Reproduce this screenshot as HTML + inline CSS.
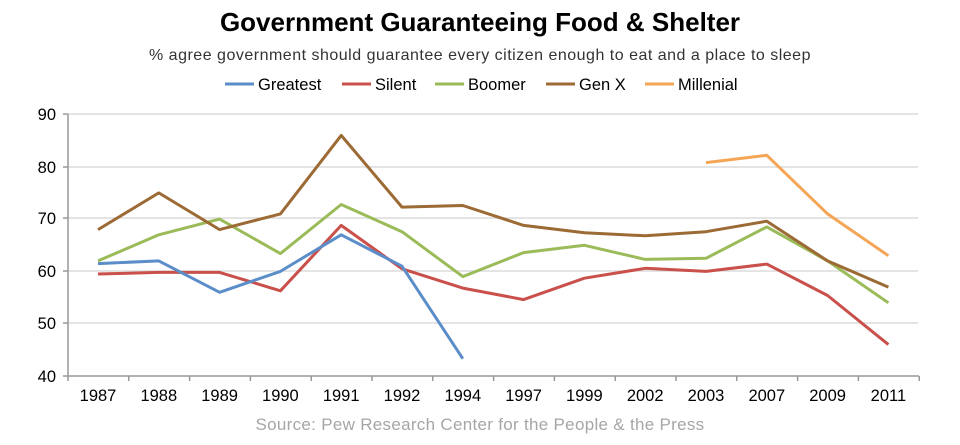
<!DOCTYPE html>
<html><head><meta charset="utf-8"><style>
body{margin:0;background:#fff;width:960px;height:440px;overflow:hidden;font-family:"Liberation Sans",sans-serif}
</style></head><body>
<svg width="960" height="440" xmlns="http://www.w3.org/2000/svg" font-family="Liberation Sans, sans-serif">
<text x="480" y="31" text-anchor="middle" font-size="26" font-weight="bold" fill="#000">Government Guaranteeing Food &amp; Shelter</text>
<text x="480" y="60" text-anchor="middle" font-size="16" letter-spacing="0.5" fill="#333">% agree government should guarantee every citizen enough to eat and a place to sleep</text>
<g font-size="16.5" fill="#000">
<line x1="225" y1="84" x2="254" y2="84" stroke="#5b8ec9" stroke-width="3"/><text x="258" y="90">Greatest</text>
<line x1="342" y1="84" x2="371" y2="84" stroke="#c9504b" stroke-width="3"/><text x="375" y="90">Silent</text>
<line x1="435" y1="84" x2="464" y2="84" stroke="#9bbb59" stroke-width="3"/><text x="468" y="90">Boomer</text>
<line x1="546" y1="84" x2="575" y2="84" stroke="#9c6a35" stroke-width="3"/><text x="579" y="90">Gen X</text>
<line x1="645" y1="84" x2="674" y2="84" stroke="#f4a556" stroke-width="3"/><text x="678" y="90">Millenial</text>
</g>
<g stroke="#dcdcdc" stroke-width="1.5">
<line x1="68" y1="114" x2="918" y2="114"/><line x1="68" y1="167" x2="918" y2="167"/><line x1="68" y1="218" x2="918" y2="218"/><line x1="68" y1="271" x2="918" y2="271"/><line x1="68" y1="323" x2="918" y2="323"/>
</g>
<g stroke="#999" stroke-width="1.5">
<line x1="68" y1="114" x2="68" y2="376"/><line x1="68" y1="376" x2="919" y2="376"/>
<line x1="63" y1="114" x2="68" y2="114"/><line x1="63" y1="167" x2="68" y2="167"/><line x1="63" y1="218" x2="68" y2="218"/><line x1="63" y1="271" x2="68" y2="271"/><line x1="63" y1="323" x2="68" y2="323"/><line x1="63" y1="376" x2="68" y2="376"/>
</g>
<g stroke="#999" stroke-width="1.5" id="ticks"></g>
<g font-size="16.5" fill="#000" text-anchor="end">
<text x="56" y="120">90</text><text x="56" y="173">80</text><text x="56" y="224">70</text><text x="56" y="277">60</text><text x="56" y="329">50</text><text x="56" y="382">40</text>
</g>
<g font-size="16.5" fill="#000" text-anchor="middle" id="xl"></g>
<g fill="none" stroke-width="3" stroke-linejoin="round" id="series"></g>
<text x="480" y="430" text-anchor="middle" font-size="17" letter-spacing="0.3" fill="#a6a6a6">Source: Pew Research Center for the People &amp; the Press</text>
</svg>
<script>
var ns="http://www.w3.org/2000/svg";
var yrs=["1987","1988","1989","1990","1991","1992","1994","1997","1999","2002","2003","2007","2009","2011"];
function X(i){return 98+i*60.8;}
function Y(v){return 376-(v-40)*5.23;}
var t=document.getElementById("ticks"),xl=document.getElementById("xl");
for(var i=0;i<=14;i++){var l=document.createElementNS(ns,"line");var x=68+i*60.8;l.setAttribute("x1",x);l.setAttribute("x2",x);l.setAttribute("y1",376);l.setAttribute("y2",381);t.appendChild(l);}
yrs.forEach(function(y,i){var e=document.createElementNS(ns,"text");e.setAttribute("x",X(i));e.setAttribute("y",401);e.textContent=y;xl.appendChild(e);});
var S=[
["#9bbb59",[62,67,70,63.4,72.8,67.6,59,63.6,65,62.3,62.5,68.5,62,54]],
["#c9504b",[59.5,59.8,59.8,56.3,68.8,60.5,56.8,54.6,58.7,60.6,60,61.4,55.4,46]],
["#5b8ec9",[61.5,62,56,60,67,61,43.3]],
["#9c6a35",[68,75,68,71,86,72.3,72.6,68.8,67.4,66.8,67.6,69.6,62,57]],
["#f4a556",[null,null,null,null,null,null,null,null,null,null,80.8,82.2,71,63]]];
var g=document.getElementById("series");
S.forEach(function(s){var p=[];s[1].forEach(function(v,i){if(v!=null)p.push(X(i).toFixed(1)+","+Y(v).toFixed(1));});
var e=document.createElementNS(ns,"polyline");e.setAttribute("points",p.join(" "));e.setAttribute("stroke",s[0]);g.appendChild(e);});
</script>
</body></html>
